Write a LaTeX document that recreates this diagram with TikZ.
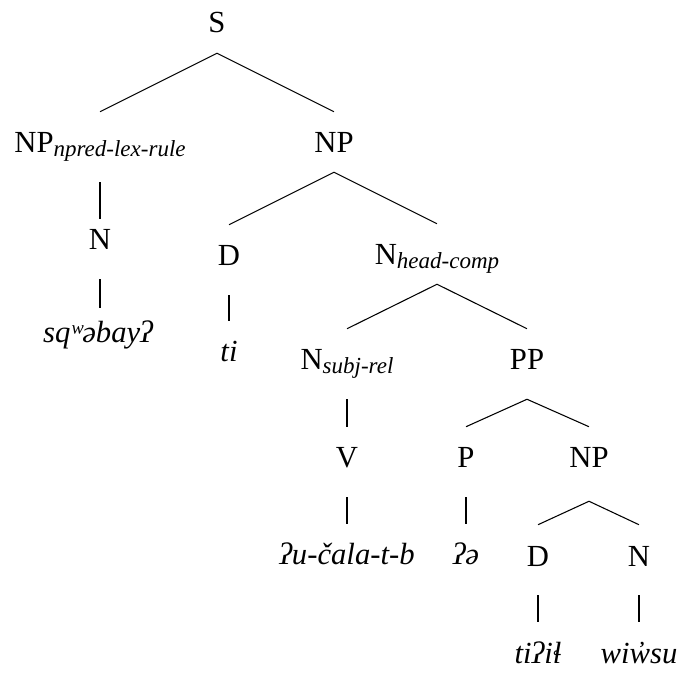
\documentclass[tikz,border=0pt]{standalone}
\usepackage{fontspec}
\setmainfont{Liberation Serif}
\usetikzlibrary{positioning}
\tikzset{
  cat/.style={anchor=base,inner sep=0pt,text height=30.75pt,text depth=21.75pt,
    font=\fontsize{23}{27}\selectfont},
  word/.style={cat,font=\fontsize{23}{27}\selectfont\itshape},
  branch/.style={line width=.8pt}
}
\newcommand*{\catsub}[1]
  {\raisebox{-3pt}{\fontsize{17.25}{20}\selectfont\itshape #1}}

\begin{document}
\begin{tikzpicture}[x=.75pt,y=-.75pt]
\useasboundingbox (0,0) rectangle (686,673);
\node[cat,text depth=15pt] (S) at (217,33) {S};
\node[cat] (NPl) at (100,153) {NP\catsub{npred-lex-rule}};
\node[cat,text depth=14.25pt] (NPr) at (334,153) {NP};
\node[cat,text height=23.25pt] (Nl) at (100,250) {N};
\node[word,text height=26.25pt] (sq) at (98,343) {sqʷəbayʔ};
\node[cat] (Dl) at (229,266) {D};
\node[word] (ti) at (229,362) {ti};
\node[cat,text depth=14.25pt] (Nh) at (437,265) {N\catsub{head-comp}};
\node[cat] (Ns) at (347,370) {N\catsub{subj-rel}};
\node[cat] (PP) at (527,370) {PP};
\node[cat] (V) at (347,468) {V};
\node[cat] (P) at (466,468) {P};
\node[cat,text depth=24.75pt] (NPs) at (589,468) {NP};
\node[word] (verb) at (347,565) {ʔu-čala-t-b};
\node[word] (prep) at (466,565) {ʔə};
\node[cat] (Ds) at (538,566) {D};
\node[cat] (Ns2) at (639,566) {N};
\node[word] (det) at (538,663) {tiʔiɬ};
\node[word] (noun) at (639,663) {wiw̓su};

\draw[branch] (NPl.north) -- (S.south) -- (NPr.north);
\draw[branch] (NPl.south) -- (Nl.north);
\draw[branch] (Nl.south) -- (Nl.south |- sq.north);
\draw[branch] (Dl.north) -- (NPr.south) -- (Nh.north);
\draw[branch] (Dl.south) -- (ti.north);
\draw[branch] (Ns.north) -- (Nh.south) -- (PP.north);
\draw[branch] (Ns.south) -- (V.north);
\draw[branch] (P.north) -- (PP.south) -- (NPs.north);
\draw[branch] (V.south) -- (verb.north);
\draw[branch] (P.south) -- (prep.north);
\draw[branch] (Ds.north) -- (NPs.south) -- (Ns2.north);
\draw[branch] (Ds.south) -- (det.north);
\draw[branch] (Ns2.south) -- (noun.north);
\end{tikzpicture}
\end{document}
